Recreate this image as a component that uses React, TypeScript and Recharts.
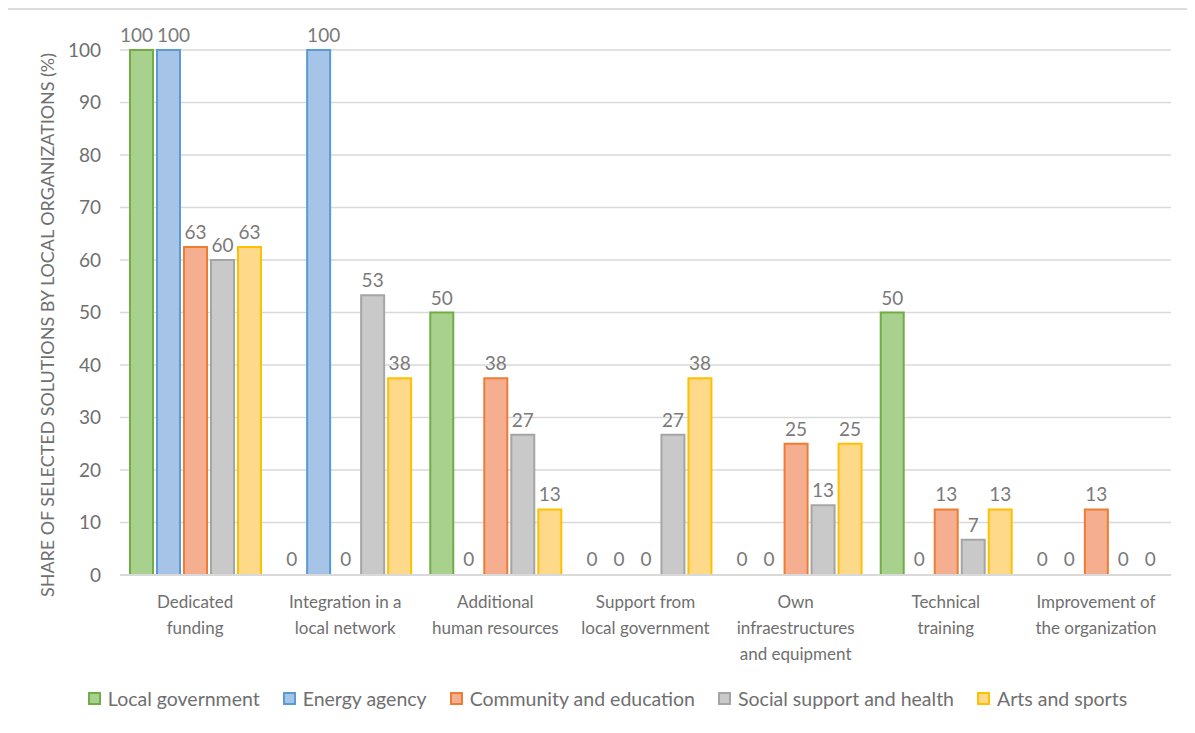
import React from "react";
import {
  BarChart,
  Bar,
  XAxis,
  YAxis,
  CartesianGrid,
  LabelList,
  Rectangle,
} from "recharts";

// solution categories (line breaks as in the figure)
const categories = [
  "Dedicated\nfunding",
  "Integration in a\nlocal network",
  "Additional\nhuman resources",
  "Support from\nlocal government",
  "Own\ninfraestructures\nand equipment",
  "Technical\ntraining",
  "Improvement of\nthe organization",
];

const localGovernment = [100, 0, 50, 0, 0, 50, 0];
const energyAgency = [100, 100, 0, 0, 0, 0, 0];
const communityEducation = [62.5, 0, 37.5, 0, 25, 12.5, 12.5];
const socialHealth = [60, 53.3, 26.7, 26.7, 13.3, 6.7, 0];
const artsSports = [62.5, 37.5, 12.5, 37.5, 25, 12.5, 0];

const yTicks = [0, 10, 20, 30, 40, 50, 60, 70, 80, 90, 100];

const series = [
  { key: "lg", name: "Local government", values: localGovernment, fill: "#a9d18e", stroke: "#70ad47", nudge: -5 },
  { key: "ea", name: "Energy agency", values: energyAgency, fill: "#a6c4e8", stroke: "#5b9bd5", nudge: 5 },
  { key: "ce", name: "Community and education", values: communityEducation, fill: "#f5ae90", stroke: "#ed7d31", nudge: 0 },
  { key: "sh", name: "Social support and health", values: socialHealth, fill: "#c9c9c9", stroke: "#a5a5a5", nudge: 0 },
  { key: "as", name: "Arts and sports", values: artsSports, fill: "#ffd98a", stroke: "#ffc000", nudge: 0 },
];

const data = categories.map((cat, i) => {
  const row: Record<string, string | number> = { cat };
  series.forEach((s) => (row[s.key] = s.values[i]));
  return row;
});

const FONT = "Lato, 'Open Sans', sans-serif";
const GREY = "#6f6f6f";

function CategoryTick(props: any) {
  const { x, y, payload } = props;
  const lines = String(payload.value).split("\n");
  return (
    <text x={x} y={y + 25} textAnchor="middle" fill={GREY} fontSize={17} fontFamily={FONT}>
      {lines.map((l, i) => (
        <tspan key={i} x={x} dy={i === 0 ? 0 : 26}>
          {l}
        </tspan>
      ))}
    </text>
  );
}

function YLabel() {
  const cx = 50;
  const cy = 325;
  return (
    <text
      x={cx}
      y={cy}
      transform={`rotate(-90 ${cx} ${cy})`}
      textAnchor="middle"
      dominantBaseline="middle"
      fill={GREY}
      fontSize={17}
      fontFamily={FONT}
      textLength={544}
      lengthAdjust="spacingAndGlyphs"
    >
      SHARE OF SELECTED SOLUTIONS BY LOCAL ORGANIZATIONS (%)
    </text>
  );
}

// draw nothing for zero-height bars, but keep them so their "0" labels show
function BarShape(props: any) {
  if (!props.value) return <g />;
  return <Rectangle {...props} />;
}

// value label above a bar; full-height neighbours are pushed apart a little
function valueLabel(nudge: number) {
  return (props: any) => {
    const { x, y, width, value } = props;
    const v = Number(value);
    const dx = v >= 100 ? nudge : 0;
    return (
      <text
        x={Number(x) + Number(width) / 2 + dx}
        y={Number(y) - 8}
        textAnchor="middle"
        fill="#7a7a7a"
        fontSize={19}
        fontFamily={FONT}
      >
        {Math.round(v)}
      </text>
    );
  };
}

function LegendRow() {
  return (
    <div
      style={{
        position: "absolute",
        top: 687,
        left: 10,
        width: 1195,
        display: "flex",
        justifyContent: "center",
        gap: 23,
        fontFamily: FONT,
        fontSize: 19.5,
        color: GREY,
      }}
    >
      {series.map((s) => (
        <div key={s.key} style={{ display: "flex", alignItems: "center", gap: 7 }}>
          <span
            style={{
              width: 9,
              height: 9,
              background: s.fill,
              border: `2px solid ${s.stroke}`,
              display: "inline-block",
            }}
          />
          <span>{s.name}</span>
        </div>
      ))}
    </div>
  );
}

export default function App() {
  return (
    <div style={{ margin: -8, width: 1195, height: 733, position: "relative", overflow: "hidden", background: "#fff" }}>
      <div
        style={{
          position: "absolute",
          left: 6,
          top: 8,
          width: 1300,
          height: 800,
          border: "2px solid #dcdcdc",
        }}
      />
      <div style={{ position: "absolute", left: 0, top: 0 }}>
        <BarChart
          width={1195}
          height={733}
          data={data}
          margin={{ top: 50, right: 24, bottom: 58, left: 0 }}
          barSize={23}
          barGap={4}
        >
          <CartesianGrid vertical={false} stroke="#d9d9d9" strokeWidth={1.5} />
          <XAxis
            dataKey="cat"
            height={100}
            axisLine={{ stroke: "#d9d9d9", strokeWidth: 2 }}
            tickLine={false}
            tick={<CategoryTick />}
            interval={0}
          />
          <YAxis
            width={120}
            domain={[0, 100]}
            ticks={yTicks}
            axisLine={false}
            tickLine={false}
            tickMargin={13}
            tick={{ fill: GREY, fontSize: 19, fontFamily: FONT }}
            label={<YLabel />}
          />
          {series.map((s) => (
            <Bar
              key={s.key}
              dataKey={s.key}
              name={s.name}
              fill={s.fill}
              stroke={s.stroke}
              strokeWidth={2}
              minPointSize={1}
              shape={<BarShape />}
              isAnimationActive={false}
            >
              <LabelList dataKey={s.key} content={valueLabel(s.nudge)} />
            </Bar>
          ))}
        </BarChart>
      </div>
      <LegendRow />
    </div>
  );
}
